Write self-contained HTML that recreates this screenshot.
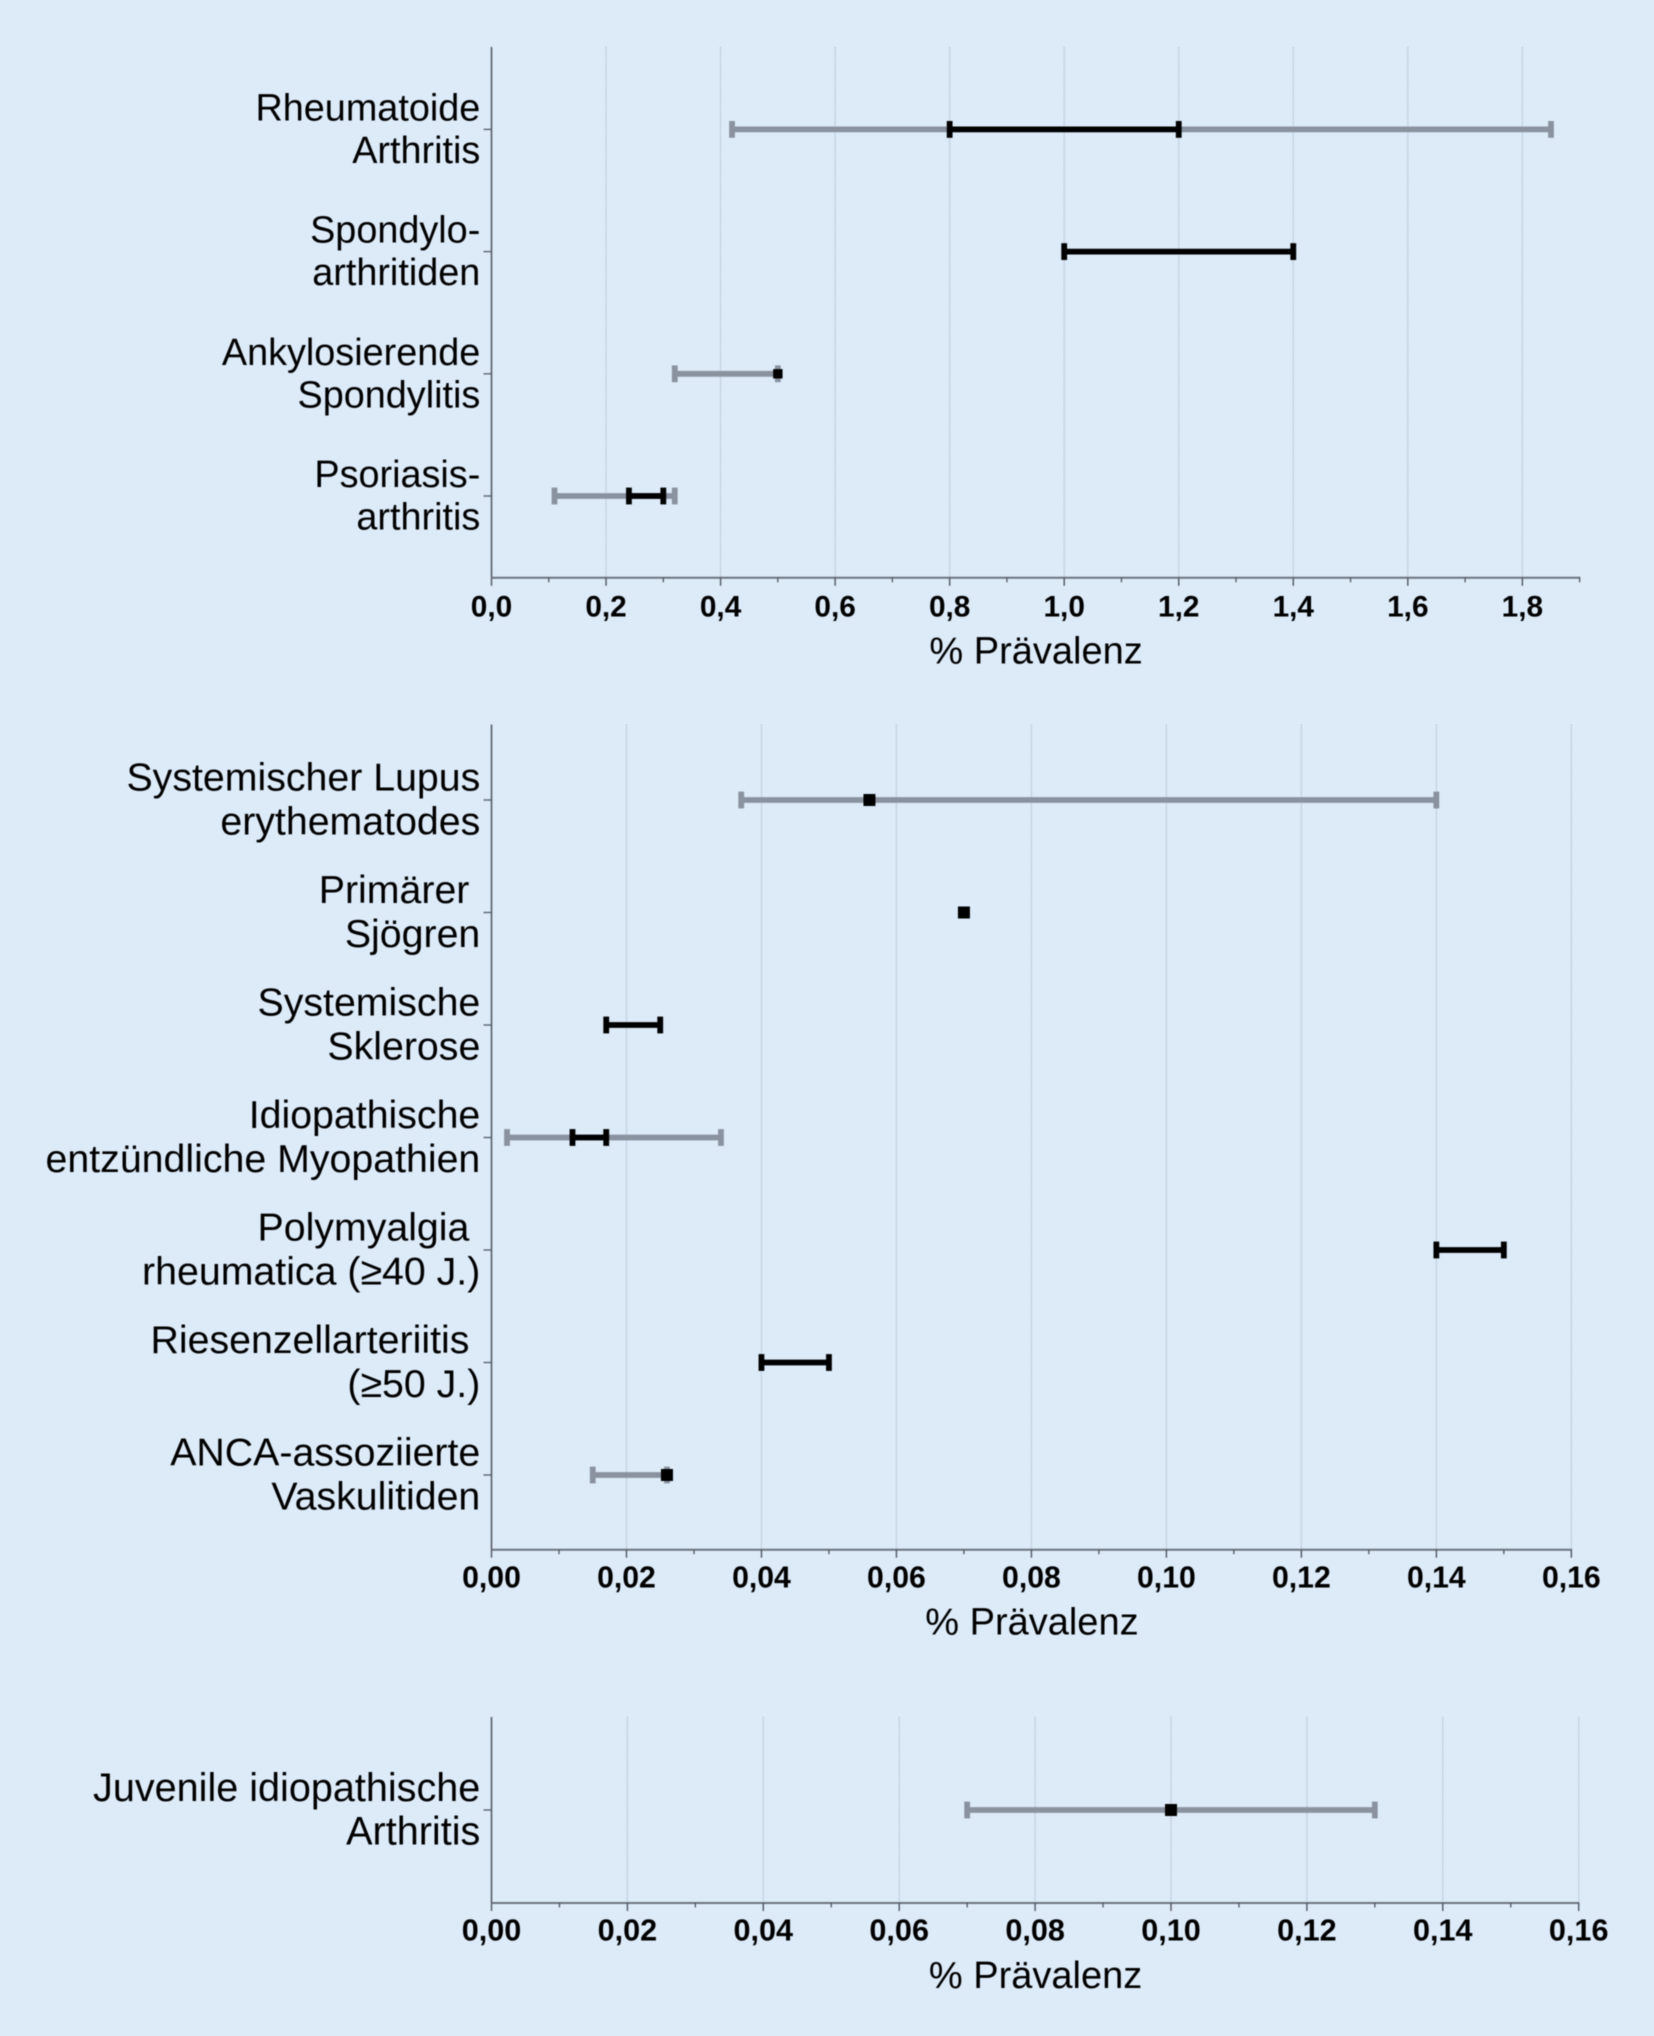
<!DOCTYPE html>
<html lang="de">
<head>
<meta charset="utf-8">
<title>Prävalenz rheumatischer Erkrankungen</title>
<style>
  html, body { margin: 0; padding: 0; background: #ddebf9; }
  svg { display: block; filter: blur(0.45px); }
  text { font-family: "Liberation Sans", Arial, sans-serif; fill: #000; white-space: pre; }
  .cat { text-anchor: end; }
  .tick { font-weight: 700; text-anchor: middle; }
  .title { font-size: 38px; text-anchor: middle; }
</style>
</head>
<body>
<svg id="figure" xmlns="http://www.w3.org/2000/svg" width="1654" height="2036" viewBox="0 0 1654 2036">
  <rect x="-2" y="-2" width="1658" height="2040" fill="#ddebf9"/>
  <g id="panel-1"></g>
  <g id="panel-2"></g>
  <g id="panel-3"></g>
</svg>
<script>
// ---- Panel 1 data ----
const p1Categories = [["Rheumatoide", "Arthritis"], ["Spondylo-", "arthritiden"], ["Ankylosierende", "Spondylitis"], ["Psoriasis-", "arthritis"]];
const p1GrayLow   = [0.42, null, 0.32, 0.11];
const p1GrayHigh  = [1.85, null, 0.50, 0.32];
const p1BlackLow  = [0.80, 1.00, null, 0.24];
const p1BlackHigh = [1.20, 1.40, null, 0.30];
const p1Points    = [null, null, 0.50, null];
const p1Ticks      = [0, 0.2, 0.4, 0.6, 0.8, 1.0, 1.2, 1.4, 1.6, 1.8];
const p1TickLabels = ["0,0", "0,2", "0,4", "0,6", "0,8", "1,0", "1,2", "1,4", "1,6", "1,8"];
const p1MinorTicks = [0.1, 0.3, 0.5, 0.7, 0.9, 1.1, 1.3, 1.5, 1.7, 1.9];

// ---- Panel 2 data ----
const p2Categories = [["Systemischer Lupus", "erythematodes"], ["Primärer ", "Sjögren"], ["Systemische", "Sklerose"], ["Idiopathische", "entzündliche Myopathien"], ["Polymyalgia ", "rheumatica (≥40 J.)"], ["Riesenzellarteriitis ", "(≥50 J.)"], ["ANCA-assoziierte", "Vaskulitiden"]];
const p2GrayLow   = [0.037, null, null, 0.0023, null, null, 0.015];
const p2GrayHigh  = [0.14, null, null, 0.034, null, null, 0.026];
const p2BlackLow  = [null, null, 0.017, 0.012, 0.14, 0.04, null];
const p2BlackHigh = [null, null, 0.025, 0.017, 0.15, 0.05, null];
const p2Points    = [0.056, 0.07, null, null, null, null, 0.026];
const p2Ticks      = [0, 0.02, 0.04, 0.06, 0.08, 0.10, 0.12, 0.14, 0.16];
const p2TickLabels = ["0,00", "0,02", "0,04", "0,06", "0,08", "0,10", "0,12", "0,14", "0,16"];
const p2MinorTicks = [0.01, 0.03, 0.05, 0.07, 0.09, 0.11, 0.13, 0.15];

// ---- Panel 3 data ----
const p3Categories = [["Juvenile idiopathische", "Arthritis"]];
const p3GrayLow   = [0.07];
const p3GrayHigh  = [0.13];
const p3BlackLow  = [null];
const p3BlackHigh = [null];
const p3Points    = [0.10];
const p3Ticks      = [0, 0.02, 0.04, 0.06, 0.08, 0.10, 0.12, 0.14, 0.16];
const p3TickLabels = ["0,00", "0,02", "0,04", "0,06", "0,08", "0,10", "0,12", "0,14", "0,16"];
const p3MinorTicks = [0.01, 0.03, 0.05, 0.07, 0.09, 0.11, 0.13, 0.15];

const axisTitle = "% Prävalenz";

const NS = "http://www.w3.org/2000/svg";
function mk(parent, tag, attrs, txt) {
  const el = document.createElementNS(NS, tag);
  for (const k in attrs) el.setAttribute(k, attrs[k]);
  if (txt !== undefined) el.textContent = txt;
  parent.appendChild(el);
  return el;
}

function drawPanel(g, cfg, d) {
  const xScale = v => cfg.left + v * cfg.pxPerUnit;
  const yScale = i => cfg.firstY + i * cfg.stepY;
  const axisEnd = xScale(Math.max(...d.ticks, ...d.minor));
  let el;

  d.ticks.forEach((t, i) => {
    if (t > 0) {
      el = mk(g, "line", {x1: xScale(t), x2: xScale(t), y1: cfg.top, y2: cfg.bottom, stroke: "#b4c2d2", "stroke-width": 1.4, "stroke-dasharray": "1.4 1"});
      
      
    }
  });

  d.categories.forEach((lines, i) => {
    const y = yScale(i);
    if (d.grayLow[i] !== null) {
      const xa = xScale(d.grayLow[i]), xb = xScale(d.grayHigh[i]);
      el = mk(g, "line", {x1: xa, x2: xb, y1: y, y2: y, stroke: "#8a92a0", "stroke-width": 5.8});
      
      
      el = mk(g, "line", {x1: xa, x2: xa, y1: y - 8.4, y2: y + 8.4, stroke: "#8a92a0", "stroke-width": 5.8});
      
      
      el = mk(g, "line", {x1: xb, x2: xb, y1: y - 8.4, y2: y + 8.4, stroke: "#8a92a0", "stroke-width": 5.8});
      
      
    }
    if (d.blackLow[i] !== null) {
      const xa = xScale(d.blackLow[i]), xb = xScale(d.blackHigh[i]);
      el = mk(g, "line", {x1: xa, x2: xb, y1: y, y2: y, stroke: "#000", "stroke-width": 5.8});
      
      
      el = mk(g, "line", {x1: xa, x2: xa, y1: y - 8.4, y2: y + 8.4, stroke: "#000", "stroke-width": 5.8});
      
      
      el = mk(g, "line", {x1: xb, x2: xb, y1: y - 8.4, y2: y + 8.4, stroke: "#000", "stroke-width": 5.8});
      
      
    }
    if (d.points[i] !== null) {
      const s = cfg.marker;
      el = mk(g, "rect", {x: xScale(d.points[i]) - s / 2, y: y - s / 2, width: s, height: s, fill: "#000"});
      
      
    }

    el = mk(g, "line", {x1: cfg.left - 8, x2: cfg.left, y1: y, y2: y, stroke: "#555b66", "stroke-width": 1.3});
    
    

    el = mk(g, "text", {class: "cat", x: 480.3, y: y + cfg.line1Dy, "font-size": cfg.catSize}, lines[0]);
    
    
    el = mk(g, "text", {class: "cat", x: 480.3, y: y + cfg.line2Dy, "font-size": cfg.catSize}, lines[1]);
    
    
  });

  el = mk(g, "line", {x1: cfg.left, x2: cfg.left, y1: cfg.top, y2: cfg.bottom, stroke: "#4f545e", "stroke-width": 1.5});
  
  

  el = mk(g, "line", {x1: cfg.left, x2: axisEnd + 0.7, y1: cfg.bottom, y2: cfg.bottom, stroke: "#6c737f", "stroke-width": 2});
  
  

  d.ticks.forEach((t, i) => {
    el = mk(g, "line", {x1: xScale(t), x2: xScale(t), y1: cfg.bottom, y2: cfg.bottom + 8, stroke: "#50555f", "stroke-width": 1.4});
    
    
    el = mk(g, "text", {class: "tick", x: xScale(t), y: cfg.tickBaseline, "font-size": cfg.tickSize}, d.tickLabels[i]);
    
    
  });
  d.minor.forEach(t => {
    el = mk(g, "line", {x1: xScale(t), x2: xScale(t), y1: cfg.bottom, y2: cfg.bottom + 4.5, stroke: "#50555f", "stroke-width": 1.3});
    
    
  });

  el = mk(g, "text", {class: "title", x: (cfg.left + axisEnd) / 2 + 0.5, y: cfg.tickBaseline + 47.3}, axisTitle);
  
  
}

drawPanel(document.getElementById("panel-1"),
  {left: 491.5, pxPerUnit: 572.7, top: 47, bottom: 577.8, firstY: 129.4, stepY: 122.2, marker: 9.4, tickBaseline: 616.3, catSize: 37.8, tickSize: 29.8, line1Dy: -9, line2Dy: 33.6},
  {categories: p1Categories, grayLow: p1GrayLow, grayHigh: p1GrayHigh, blackLow: p1BlackLow, blackHigh: p1BlackHigh, points: p1Points, ticks: p1Ticks, tickLabels: p1TickLabels, minor: p1MinorTicks});

drawPanel(document.getElementById("panel-2"),
  {left: 491.5, pxPerUnit: 6749, top: 724.5, bottom: 1549.7, firstY: 800, stepY: 112.5, marker: 12, tickBaseline: 1587.3, catSize: 39.3, tickSize: 30.2, line1Dy: -9.5, line2Dy: 34.3},
  {categories: p2Categories, grayLow: p2GrayLow, grayHigh: p2GrayHigh, blackLow: p2BlackLow, blackHigh: p2BlackHigh, points: p2Points, ticks: p2Ticks, tickLabels: p2TickLabels, minor: p2MinorTicks});

drawPanel(document.getElementById("panel-3"),
  {left: 491.5, pxPerUnit: 6795, top: 1717, bottom: 1903, firstY: 1810, stepY: 112.5, marker: 12, tickBaseline: 1940.7, catSize: 39.6, tickSize: 30.6, line1Dy: -9, line2Dy: 34.5},
  {categories: p3Categories, grayLow: p3GrayLow, grayHigh: p3GrayHigh, blackLow: p3BlackLow, blackHigh: p3BlackHigh, points: p3Points, ticks: p3Ticks, tickLabels: p3TickLabels, minor: p3MinorTicks});
</script>
</body>
</html>
